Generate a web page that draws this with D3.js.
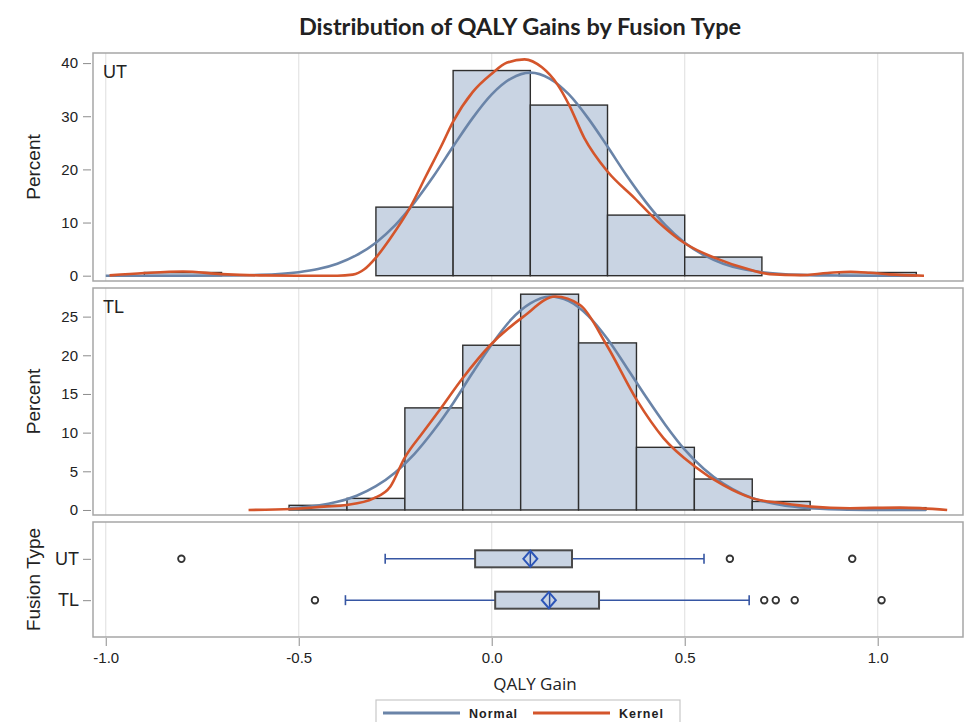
<!DOCTYPE html>
<html>
<head>
<meta charset="utf-8">
<script src="https://cdn.jsdelivr.net/npm/d3@7"></script>
<style>
body { margin: 0; background: #fff; }
svg text { font-family: "Liberation Sans", Arial, sans-serif; fill: #222; }
</style>
</head>
<body>
<svg id="chart" width="965" height="722"></svg>
<script>

// ---- data ----
var xTicks = [-1.0, -0.5, 0.0, 0.5, 1.0];

// UT histogram (bin width 0.2)
var utBinWidth = 0.2;
var utBinMid = [-0.8, -0.6, -0.4, -0.2, 0.0, 0.2, 0.4, 0.6, 0.8, 1.0];
var utPct    = [0.6, 0, 0, 12.9, 38.6, 32.1, 11.4, 3.5, 0, 0.6];
var utTicks  = [0, 10, 20, 30, 40];

var utNormX = [-1.0, -0.8, -0.7, -0.6, -0.5, -0.45, -0.4, -0.35, -0.3, -0.25, -0.2, -0.15, -0.1, -0.05, 0, 0.05, 0.1, 0.15, 0.2, 0.25, 0.3, 0.35, 0.4, 0.45, 0.5, 0.55, 0.6, 0.65, 0.7, 0.8, 0.9, 1.0, 1.1];
var utNormY = [0, 0, 0.03, 0.15, 0.65, 1.24, 2.25, 3.85, 6.2, 9.5, 13.8, 18.8, 24.3, 29.6, 34.1, 37.1, 38.2, 37.1, 34.1, 29.6, 24.3, 18.8, 13.8, 9.5, 6.2, 3.85, 2.25, 1.24, 0.65, 0.15, 0.03, 0, 0];

var utKdeX = [-0.99, -0.9, -0.8, -0.7, -0.6, -0.5, -0.4, -0.36, -0.33, -0.3, -0.263, -0.211, -0.17, -0.13, -0.1, -0.05, 0, 0.04, 0.085, 0.13, 0.17, 0.2, 0.24, 0.3, 0.37, 0.43, 0.5, 0.58, 0.67, 0.72, 0.8, 0.87, 0.93, 0.98, 1.03, 1.12];
var utKdeY = [0.05, 0.5, 0.8, 0.3, 0.05, 0, 0, 0.2, 1.2, 3.4, 7.0, 12.9, 18.8, 24.5, 29, 34.5, 38, 40.1, 40.7, 39.2, 36.0, 32.2, 25.9, 19.6, 14.6, 10.2, 6.1, 3.3, 1.1, 0.3, 0.1, 0.5, 0.75, 0.55, 0.25, 0];

// TL histogram (bin width 0.15)
var tlBinWidth = 0.15;
var tlBinMid = [-0.45, -0.3, -0.15, 0.0, 0.15, 0.3, 0.45, 0.6, 0.75, 0.9, 1.05];
var tlPct    = [0.6, 1.5, 13.2, 21.3, 27.9, 21.6, 8.1, 4.0, 1.1, 0, 0.3];
var tlTicks  = [0, 5, 10, 15, 20, 25];

var tlNormX = [-0.525, -0.5, -0.45, -0.4, -0.35, -0.3, -0.25, -0.2, -0.15, -0.1, -0.05, 0, 0.05, 0.1, 0.15, 0.2, 0.25, 0.3, 0.35, 0.4, 0.45, 0.5, 0.55, 0.6, 0.65, 0.7, 0.75, 0.8, 0.85, 0.9, 1.0, 1.125];
var tlNormY = [0.2, 0.29, 0.56, 1.05, 1.84, 3.07, 4.85, 7.26, 10.3, 13.8, 17.7, 21.4, 24.6, 26.7, 27.6, 27.0, 25.1, 22.1, 18.4, 14.6, 11.0, 7.8, 5.3, 3.4, 2.05, 1.17, 0.64, 0.33, 0.16, 0.07, 0.01, 0];

var tlKdeX = [-0.63, -0.52, -0.435, -0.375, -0.306, -0.263, -0.226, -0.177, -0.134, -0.076, -0.004, 0.082, 0.165, 0.229, 0.298, 0.376, 0.445, 0.527, 0.6, 0.676, 0.755, 0.827, 0.928, 1.058, 1.18];
var tlKdeY = [0, 0.13, 0.43, 0.65, 1.5, 3.0, 6.7, 10.1, 13.0, 17.0, 21.3, 25.0, 27.6, 26.5, 21.3, 14.2, 9.3, 5.6, 3.2, 1.5, 0.86, 0.43, 0.23, 0.3, 0];

// box plot summaries
var boxCats  = ["UT", "TL"];
var boxLo    = [-0.276, -0.379];
var boxQ1    = [-0.043, 0.009];
var boxMed   = [0.100, 0.150];
var boxMean  = [0.100, 0.148];
var boxQ3    = [0.208, 0.278];
var boxHi    = [0.550, 0.667];
var utOutliers = [-0.804, 0.617, 0.934];
var tlOutliers = [-0.458, 0.706, 0.736, 0.785, 1.010];

var legendNames = ["Normal", "Kernel"];

// ---- colours ----
var barFill = "#c9d4e3", barStroke = "#2e2e2e";
var normalColor = "#6a84a8", kernelColor = "#d4552b";
var frameColor = "#a6a6a6", gridColor = "#e4e4e4";
var whiskerColor = "#3656a3";

var svg = d3.select("#chart");

var x = d3.scaleLinear().domain([-1.033, 1.221]).range([93, 963]);
var left = 93, right = 963;

function zip(a, b) {
  return a.map(function(d, i) { return [d, b[i]]; });
}

function histPanel(top, bottom, yDomain, yTicks, mids, pct, bw, normX, normY, kdeX, kdeY, label) {
  var y = d3.scaleLinear().domain(yDomain).range([bottom, top]);
  var g = svg.append("g");

  g.selectAll(".grid").data(xTicks).enter().append("line")
    .attr("x1", function(d) { return x(d); })
    .attr("x2", function(d) { return x(d); })
    .attr("y1", top).attr("y2", bottom)
    .attr("stroke", gridColor).attr("stroke-width", 1.2);

  var bins = mids.map(function(m, i) { return {mid: m, pct: pct[i]}; })
    .filter(function(d) { return d.pct > 0; });

  g.selectAll(".bar").data(bins).enter().append("rect")
    .attr("x", function(d) { return x(d.mid - bw / 2); })
    .attr("width", function(d) { return x(d.mid + bw / 2) - x(d.mid - bw / 2); })
    .attr("y", function(d) { return y(d.pct); })
    .attr("height", function(d) { return y(0) - y(d.pct); })
    .attr("fill", barFill)
    .attr("stroke", barStroke)
    .attr("stroke-width", 1.4);

  var line = d3.line()
    .x(function(d) { return x(d[0]); })
    .y(function(d) { return y(d[1]); })
    .curve(d3.curveMonotoneX);

  g.append("path").datum(zip(normX, normY))
    .attr("d", line).attr("fill", "none")
    .attr("stroke", normalColor).attr("stroke-width", 2.6);

  g.append("path").datum(zip(kdeX, kdeY))
    .attr("d", line).attr("fill", "none")
    .attr("stroke", kernelColor).attr("stroke-width", 2.6);

  g.append("rect")
    .attr("x", left).attr("y", top)
    .attr("width", right - left).attr("height", bottom - top)
    .attr("fill", "none").attr("stroke", frameColor).attr("stroke-width", 1.5);

  var yAxis = g.append("g")
    .attr("transform", "translate(" + (left - 2) + ",0)")
    .call(d3.axisLeft(y).tickValues(yTicks).tickSizeInner(8).tickSizeOuter(0).tickPadding(5));
  yAxis.select(".domain").remove();
  yAxis.selectAll(".tick line").attr("stroke", "#8c8c8c");
  yAxis.selectAll(".tick text").style("font-size", "15px").attr("fill", "#222");

  g.append("text")
    .attr("x", 103).attr("y", top + 25)
    .style("font-size", "18px")
    .text(label);

  g.append("text")
    .attr("transform", "translate(40," + ((top + bottom) / 2) + ") rotate(-90)")
    .attr("text-anchor", "middle")
    .style("font-size", "19px")
    .text("Percent");
}

histPanel(53, 281, [-1.0, 41.9], utTicks, utBinMid, utPct, utBinWidth, utNormX, utNormY, utKdeX, utKdeY, "UT");
histPanel(288, 515, [-0.65, 28.7], tlTicks, tlBinMid, tlPct, tlBinWidth, tlNormX, tlNormY, tlKdeX, tlKdeY, "TL");

// ---- box plot panel ----
var bTop = 522, bBottom = 637;
var yb = d3.scalePoint().domain(boxCats).range([bTop, bBottom]).padding(0.89);
var gb = svg.append("g");

gb.selectAll(".grid").data(xTicks).enter().append("line")
  .attr("x1", function(d) { return x(d); })
  .attr("x2", function(d) { return x(d); })
  .attr("y1", bTop).attr("y2", bBottom)
  .attr("stroke", gridColor).attr("stroke-width", 1.2);

var boxes = boxCats.map(function(c, i) {
  return {cat: c, lo: boxLo[i], q1: boxQ1[i], med: boxMed[i], mean: boxMean[i], q3: boxQ3[i], hi: boxHi[i]};
});

var bh = 8.5;
var bg = gb.selectAll(".box").data(boxes).enter().append("g");

bg.append("line")
  .attr("x1", function(d) { return x(d.lo); }).attr("x2", function(d) { return x(d.q1); })
  .attr("y1", function(d) { return yb(d.cat); }).attr("y2", function(d) { return yb(d.cat); })
  .attr("stroke", whiskerColor).attr("stroke-width", 1.6);
bg.append("line")
  .attr("x1", function(d) { return x(d.q3); }).attr("x2", function(d) { return x(d.hi); })
  .attr("y1", function(d) { return yb(d.cat); }).attr("y2", function(d) { return yb(d.cat); })
  .attr("stroke", whiskerColor).attr("stroke-width", 1.6);
bg.append("line")
  .attr("x1", function(d) { return x(d.lo); }).attr("x2", function(d) { return x(d.lo); })
  .attr("y1", function(d) { return yb(d.cat) - 5; }).attr("y2", function(d) { return yb(d.cat) + 5; })
  .attr("stroke", whiskerColor).attr("stroke-width", 1.6);
bg.append("line")
  .attr("x1", function(d) { return x(d.hi); }).attr("x2", function(d) { return x(d.hi); })
  .attr("y1", function(d) { return yb(d.cat) - 5; }).attr("y2", function(d) { return yb(d.cat) + 5; })
  .attr("stroke", whiskerColor).attr("stroke-width", 1.6);

bg.append("rect")
  .attr("x", function(d) { return x(d.q1); })
  .attr("width", function(d) { return x(d.q3) - x(d.q1); })
  .attr("y", function(d) { return yb(d.cat) - bh; })
  .attr("height", bh * 2)
  .attr("fill", barFill).attr("stroke", "#4a4a4a").attr("stroke-width", 2);

bg.append("line")
  .attr("x1", function(d) { return x(d.med); }).attr("x2", function(d) { return x(d.med); })
  .attr("y1", function(d) { return yb(d.cat) - bh; }).attr("y2", function(d) { return yb(d.cat) + bh; })
  .attr("stroke", "#2a4a9a").attr("stroke-width", 1.5);

bg.append("path")
  .attr("d", function(d) {
    var cx = x(d.mean), cy = yb(d.cat);
    return "M" + (cx - 7) + "," + cy + "L" + cx + "," + (cy - 8) + "L" + (cx + 7) + "," + cy + "L" + cx + "," + (cy + 8) + "Z";
  })
  .attr("fill", "none").attr("stroke", "#2c55b8").attr("stroke-width", 2);

var outliers = utOutliers.map(function(v) { return {cat: "UT", v: v}; })
  .concat(tlOutliers.map(function(v) { return {cat: "TL", v: v}; }));

gb.selectAll(".outlier").data(outliers).enter().append("circle")
  .attr("cx", function(d) { return x(d.v); })
  .attr("cy", function(d) { return yb(d.cat); })
  .attr("r", 3.3)
  .attr("fill", "#fff").attr("stroke", "#333").attr("stroke-width", 1.8);

gb.append("rect")
  .attr("x", left).attr("y", bTop)
  .attr("width", right - left).attr("height", bBottom - bTop)
  .attr("fill", "none").attr("stroke", frameColor).attr("stroke-width", 1.5);

var ybAxis = gb.append("g")
  .attr("transform", "translate(" + (left - 2) + ",0)")
  .call(d3.axisLeft(yb).tickSizeInner(8).tickSizeOuter(0).tickPadding(4));
ybAxis.select(".domain").remove();
ybAxis.selectAll(".tick line").attr("stroke", "#8c8c8c");
ybAxis.selectAll(".tick text").style("font-size", "18px").attr("fill", "#222");

gb.append("text")
  .attr("transform", "translate(40," + ((bTop + bBottom) / 2) + ") rotate(-90)")
  .attr("text-anchor", "middle")
  .style("font-size", "19px")
  .text("Fusion Type");

var xAxis = gb.append("g")
  .attr("transform", "translate(0," + (bBottom + 1) + ")")
  .call(d3.axisBottom(x).tickValues(xTicks).tickFormat(function(d) { return d.toFixed(1); })
    .tickSizeInner(8).tickSizeOuter(0).tickPadding(6));
xAxis.select(".domain").remove();
xAxis.selectAll(".tick line").attr("stroke", "#8c8c8c");
xAxis.selectAll(".tick text").style("font-size", "15px").attr("fill", "#222");

svg.append("text")
  .attr("x", 535).attr("y", 690)
  .attr("text-anchor", "middle")
  .style("font-family", "'Open Sans', sans-serif")
  .style("font-size", "17px")
  .text("QALY Gain");

// ---- title ----
svg.append("text")
  .attr("x", 520).attr("y", 35)
  .attr("text-anchor", "middle")
  .style("font-family", "Lato, 'Open Sans', sans-serif")
  .style("font-weight", "700")
  .style("font-size", "23.5px")
  .attr("fill", "#111")
  .text("Distribution of QALY Gains by Fusion Type");

// ---- legend ----
var lg = svg.append("g");
lg.append("rect")
  .attr("x", 376).attr("y", 700).attr("width", 304).attr("height", 30)
  .attr("fill", "#fff").attr("stroke", "#c8c8c8").attr("stroke-width", 1.2);

var legendColors = [normalColor, kernelColor];
var legendX = [383, 533];
var li = lg.selectAll(".li").data(legendNames).enter().append("g")
  .attr("transform", function(d, i) { return "translate(" + legendX[i] + ",713)"; });
li.append("line")
  .attr("x1", 0).attr("x2", 77).attr("y1", 0).attr("y2", 0)
  .attr("stroke", function(d, i) { return legendColors[i]; })
  .attr("stroke-width", 3);
li.append("text")
  .attr("x", 86).attr("y", 4.5)
  .style("font-size", "12.5px")
  .style("font-weight", "700")
  .style("letter-spacing", "1px")
  .attr("fill", "#333")
  .text(function(d) { return d; });

</script>
</body>
</html>
